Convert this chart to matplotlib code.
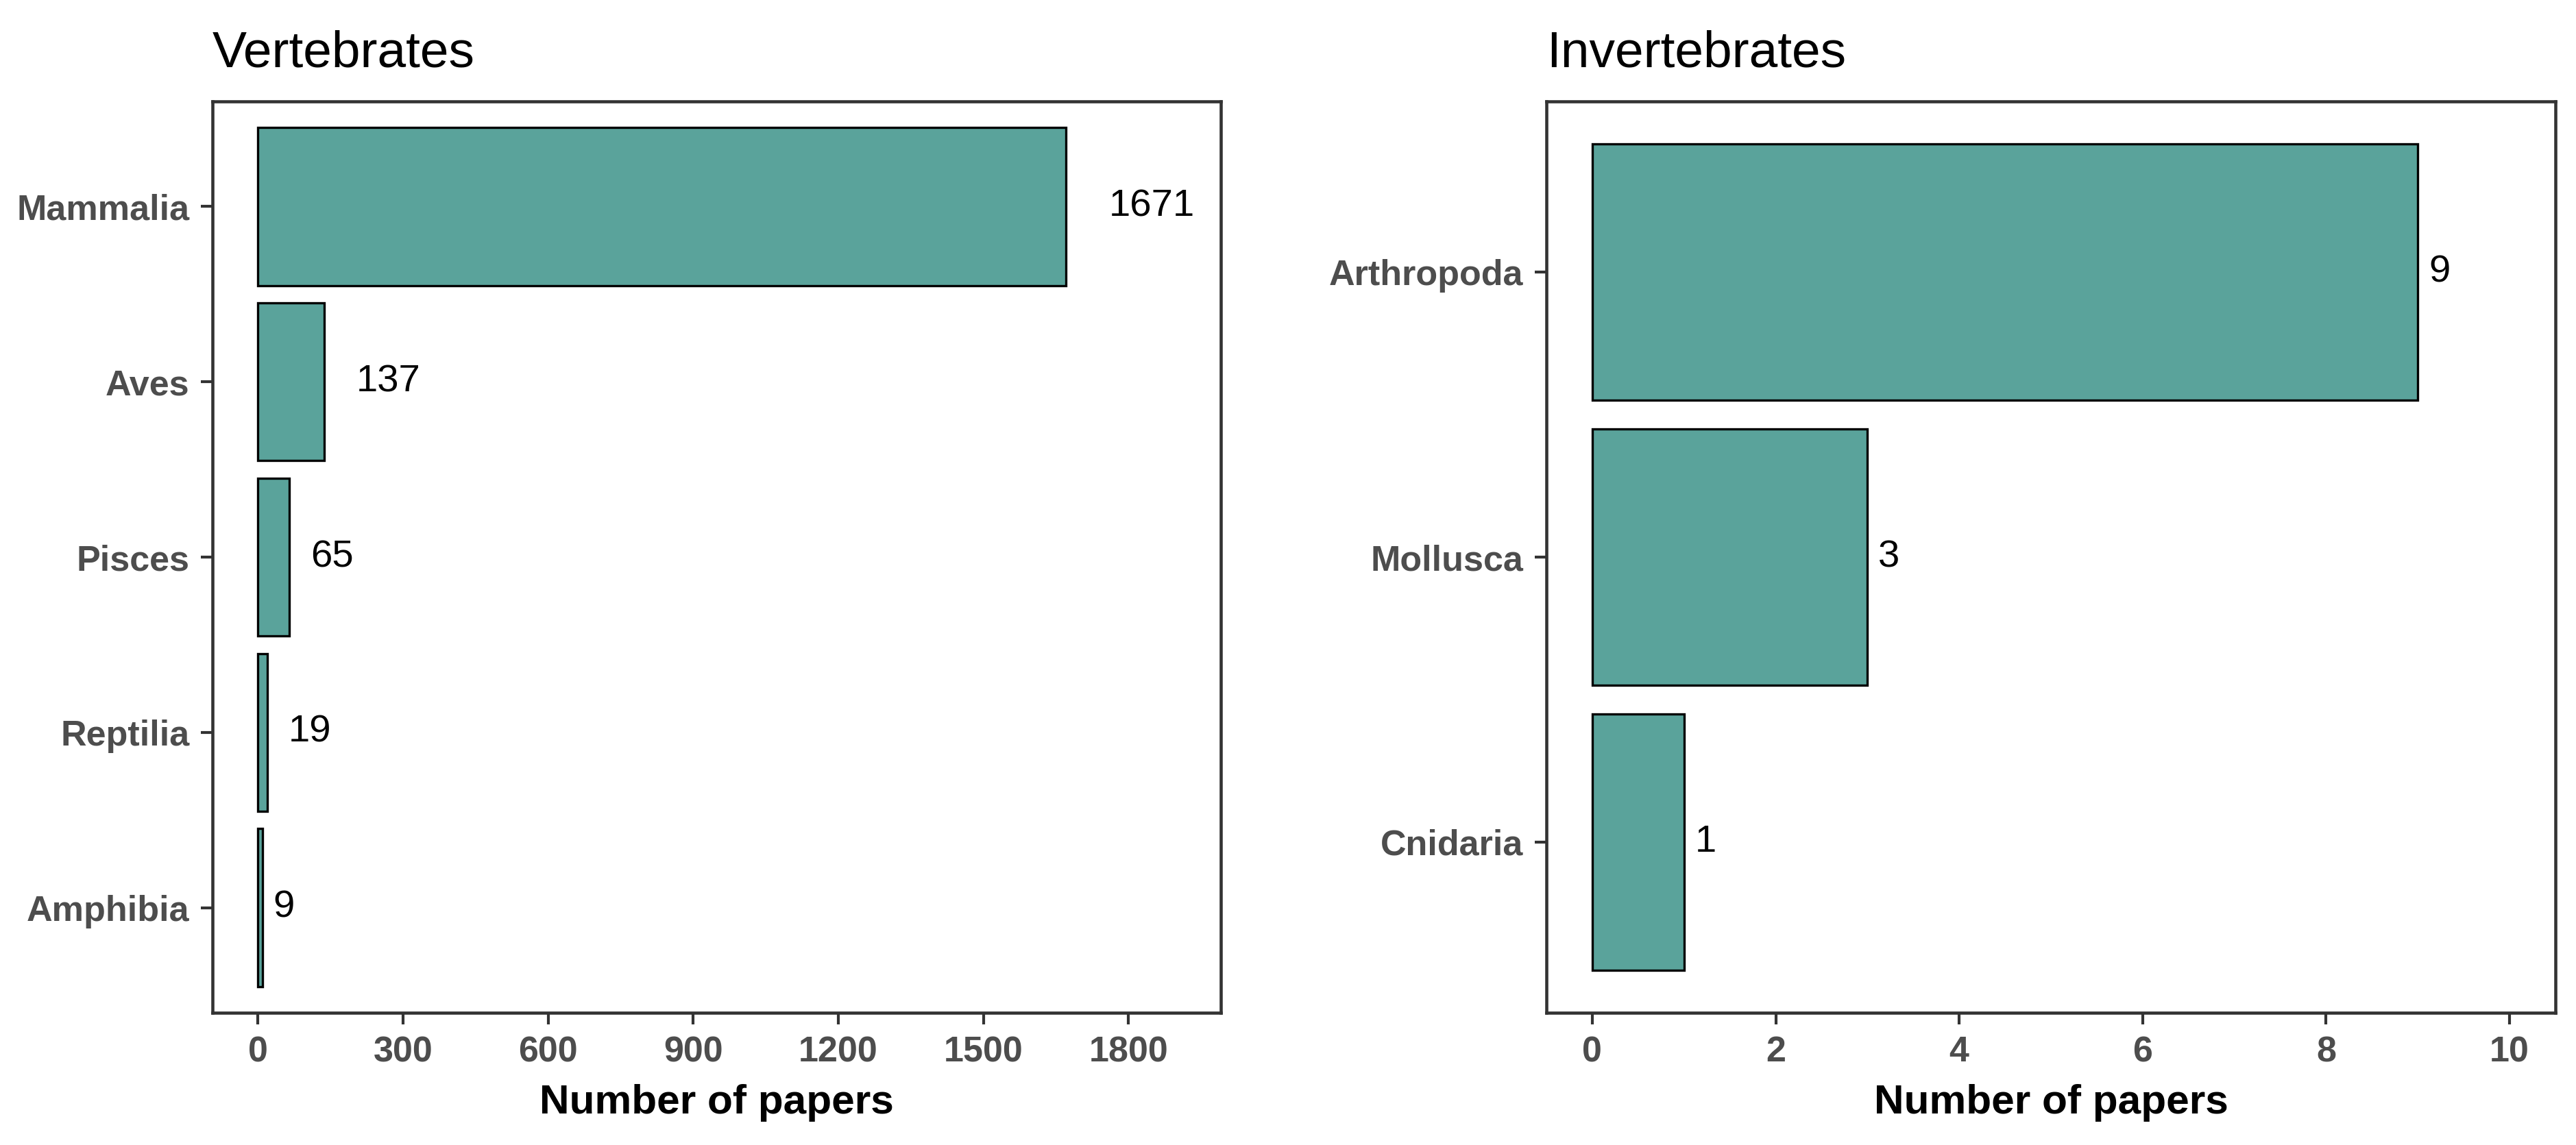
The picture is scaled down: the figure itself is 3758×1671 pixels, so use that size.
import matplotlib
matplotlib.use("Agg")
import matplotlib.pyplot as plt
import numpy as np

# data
vert_groups = ["Mammalia", "Aves", "Pisces", "Reptilia", "Amphibia"]
vert_counts = [1671, 137, 65, 19, 9]
vert_ticks = [0, 300, 600, 900, 1200, 1500, 1800]

invert_groups = ["Arthropoda", "Mollusca", "Cnidaria"]
invert_counts = [9, 3, 1]
invert_ticks = [0, 2, 4, 6, 8, 10]

plt.rcParams["font.family"] = ["Liberation Sans", "DejaVu Sans"]

W, H, DPI = 3758, 1671, 300
fig = plt.figure(figsize=(W / DPI, H / DPI), dpi=DPI)

bar_col = "#5AA39B"
frame_col = "#333333"
tick_lab_col = "#4D4D4D"
val_fs = 13.5


def panel(rect, groups, counts, ticks, xlim, title):
    ax = fig.add_axes(rect)
    y = np.arange(len(groups))
    ax.barh(y, counts, height=0.9, color=bar_col, edgecolor="black", linewidth=0.8)
    for yi, c in zip(y, counts):
        s = str(c)
        # ggplot hjust = -0.5 : shift by half the text width
        off = 0.5 * len(s) * 0.556 * val_fs
        ax.annotate(s, (c, yi), xytext=(off, 0), textcoords="offset points",
                    ha="left", va="center", fontsize=val_fs, color="black")
    ax.set_ylim(len(groups) - 0.4, -0.6)
    ax.set_xlim(*xlim)
    ax.set_yticks(y)
    ax.set_yticklabels(groups, fontsize=12.5, fontweight="bold", color=tick_lab_col)
    ax.set_xticks(ticks)
    ax.set_xticklabels([str(t) for t in ticks], fontsize=12.5, fontweight="bold",
                       color=tick_lab_col)
    ax.tick_params(axis="both", length=4, width=1.0, color=frame_col, pad=4)
    for sp in ax.spines.values():
        sp.set_color(frame_col)
        sp.set_linewidth(1.1)
    x0 = rect[0]
    fig.text(x0, 1 - 97 / H, title, fontsize=18, ha="left", va="baseline")
    fig.text(x0 + rect[2] / 2, 1 - 1625 / H, "Number of papers", fontsize=14.5,
             fontweight="bold", ha="center", va="baseline")
    return ax


y0 = 1 - 1478 / H
hgt = (1478 - 148) / H
panel([310 / W, y0, (1781 - 310) / W, hgt], vert_groups, vert_counts, vert_ticks,
      (-94, 1991), "Vertebrates")
panel([2256 / W, y0, (3728 - 2256) / W, hgt], invert_groups, invert_counts, invert_ticks,
      (-0.5, 10.5), "Invertebrates")

fig.savefig("out.png", dpi=DPI)
